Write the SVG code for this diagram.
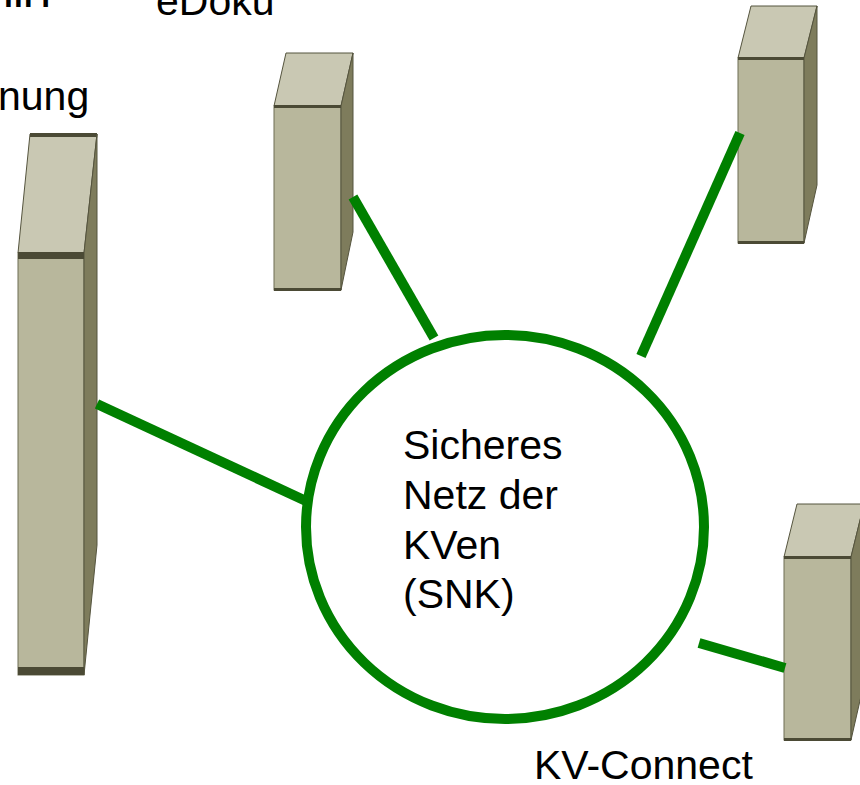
<svg xmlns="http://www.w3.org/2000/svg" width="860" height="785" viewBox="0 0 860 785">
<style>
.top{fill:#c9c8b3;stroke:#55543e;stroke-width:1}
.front{fill:#b8b79c;stroke:#6f6e55;stroke-width:1}
.side{fill:#7e7c5c;stroke:#55543e;stroke-width:1}
.band{fill:#4b4a35}
.lbl{font-family:"Liberation Sans",Arial,sans-serif;font-size:41px;fill:#000}
.link{stroke:#008000;stroke-width:10;fill:none}
</style>
<rect width="860" height="785" fill="#fff"/>
<text x="4" y="7" class="lbl" style="font-weight:bold;font-size:32px">m i</text>
<text x="-2" y="110" class="lbl">nung</text>
<text x="156" y="15" class="lbl">eDoku</text>
<text x="534" y="779" class="lbl">KV-Connect</text>
<g id="server-left">
<polygon class="top" points="30,134 97,134 84,253 18,253"/>
<rect class="band" x="30" y="133" width="67" height="4"/>
<rect class="front" x="18" y="253" width="66" height="422"/>
<polygon class="side" points="84,253 97,134 97,545 84,675"/>
<rect class="band" x="18" y="252" width="66" height="7"/>
<rect class="band" x="18" y="667" width="66" height="8"/>
</g>
<g id="server-edoku">
<polygon class="top" points="286,53 353,53 341,106 274,106"/>
<rect class="front" x="274" y="106" width="67" height="184"/>
<polygon class="side" points="341,106 353,53 353,232 341,290"/>
<rect class="band" x="274" y="105" width="67" height="3"/>
<rect class="band" x="274" y="288" width="67" height="3"/>
</g>
<g id="server-topright">
<polygon class="top" points="751,6 817,6 804,58 738,58"/>
<rect class="front" x="738" y="58" width="66" height="185"/>
<polygon class="side" points="804,58 817,6 817,185 804,243"/>
<rect class="band" x="738" y="57" width="66" height="3"/>
<rect class="band" x="738" y="241" width="66" height="3"/>
</g>
<g id="server-kvconnect">
<polygon class="top" points="797,504 864,504 851,557 784,557"/>
<rect class="front" x="784" y="557" width="67" height="183"/>
<polygon class="side" points="851,557 864,504 864,683 851,740"/>
<rect class="band" x="784" y="556" width="67" height="3"/>
<rect class="band" x="784" y="738" width="67" height="3"/>
</g>
<g id="connectors">
<line class="link" x1="97" y1="404" x2="306" y2="501"/>
<line class="link" x1="353" y1="197" x2="434" y2="338"/>
<line class="link" x1="740" y1="133" x2="641" y2="356"/>
<line class="link" x1="699" y1="643" x2="785" y2="668"/>
</g>
<g id="snk">
<ellipse class="link" cx="505" cy="527" rx="199" ry="192" fill="#fff"/>
<text class="lbl"><tspan x="403" y="459">Sicheres</tspan><tspan x="403" y="509">Netz der</tspan><tspan x="403" y="559">KVen</tspan><tspan x="403" y="608">(SNK)</tspan></text>
</g>
</svg>
